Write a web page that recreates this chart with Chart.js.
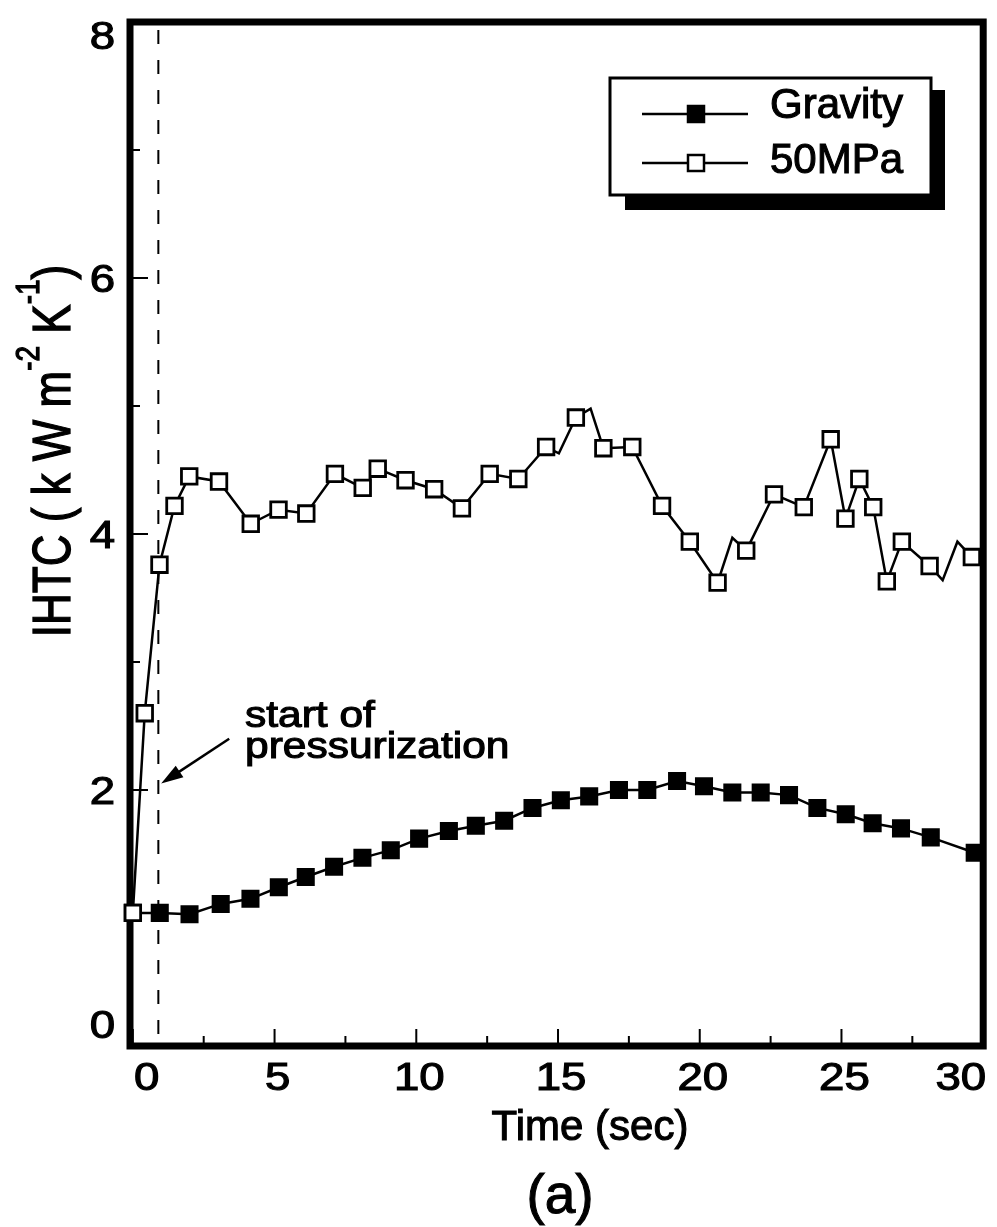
<!DOCTYPE html>
<html>
<head>
<meta charset="utf-8">
<script src="https://cdn.jsdelivr.net/npm/chart.js@4.4.1/dist/chart.umd.min.js"></script>
<style>
  body { margin: 0; background: #fff; }
  canvas { display: block; }
</style>
</head>
<body>
<canvas id="graph1" width="997" height="1227"></canvas>
<script>
// gravity casting, IHTC vs time
var gravityTime = [0, 0.95, 2.0, 3.1, 4.15, 5.15, 6.1, 7.1, 8.1, 9.1, 10.1, 11.15, 12.1, 13.1, 14.1,
  15.1, 16.1, 17.15, 18.15, 19.2, 20.15, 21.15, 22.15, 23.15, 24.15, 25.15, 26.1, 27.1, 28.15, 29.7];
var gravityIHTC = [1.04, 1.04, 1.03, 1.11, 1.15, 1.24, 1.32, 1.40, 1.47, 1.53, 1.62, 1.68, 1.72, 1.76, 1.86,
  1.92, 1.95, 2.0, 2.0, 2.07, 2.03, 1.98, 1.98, 1.96, 1.86, 1.81, 1.74, 1.70, 1.63, 1.51];

// squeeze casting at 50 MPa
var pressTime = [0, 0.42, 0.94, 1.47, 1.99, 3.04, 4.16, 5.14, 6.12, 7.13, 8.11, 8.64, 9.62, 10.63, 11.61,
  12.59, 13.6, 14.58, 15.03, 15.63, 16.15, 16.6, 17.62, 18.67, 19.65, 20.63, 21.15, 21.64, 22.62, 23.67,
  24.62, 25.14, 25.63, 26.12, 26.6, 27.13, 28.11, 28.57, 29.09, 29.6];
var pressIHTC = [1.04, 2.60, 3.76, 4.22, 4.45, 4.41, 4.08, 4.19, 4.16, 4.47, 4.36, 4.51, 4.42, 4.35, 4.20,
  4.47, 4.43, 4.68, 4.63, 4.91, 4.98, 4.67, 4.68, 4.22, 3.94, 3.62, 3.97, 3.87, 4.31, 4.21,
  4.74, 4.12, 4.43, 4.21, 3.63, 3.94, 3.75, 3.64, 3.94, 3.82];
// samples of the 50MPa curve drawn without a marker
var pressUnmarked = [15.03, 16.15, 21.15, 28.57, 29.09];

var xTicks = [0, 5, 10, 15, 20, 25, 30];
var yTicks = [0, 2, 4, 6, 8];
var pressStart = 0.9;

var FONT = '"Liberation Sans", Arial, sans-serif';

function pts(xs, ys) {
  return xs.map(function (x, i) { return { x: x, y: ys[i] }; });
}

// scanned print looks heavier, so fill + thin stroke
function txt(ctx, s, x, y, size, align, sx) {
  ctx.save();
  ctx.translate(x, y);
  ctx.scale(sx || 1, 1);
  ctx.font = size + 'px ' + FONT;
  ctx.textAlign = align || 'left';
  ctx.textBaseline = 'alphabetic';
  ctx.fillStyle = '#000';
  ctx.strokeStyle = '#000';
  ctx.lineWidth = 1.1;
  ctx.fillText(s, 0, 0);
  ctx.strokeText(s, 0, 0);
  ctx.restore();
}

function textWidth(ctx, s, size, sx) {
  ctx.save();
  ctx.font = size + 'px ' + FONT;
  var w = ctx.measureText(s).width * (sx || 1);
  ctx.restore();
  return w;
}

var frame = {
  id: 'frame',
  beforeDatasetsDraw: function (chart) {
    var ctx = chart.ctx, a = chart.chartArea, xs = chart.scales.x, ys = chart.scales.y;
    ctx.save();
    ctx.strokeStyle = '#000';
    ctx.fillStyle = '#000';

    // start of pressurization marker line
    var dx = xs.getPixelForValue(pressStart);
    ctx.lineWidth = 2;
    ctx.setLineDash([14, 16]);
    ctx.beginPath();
    ctx.moveTo(dx, a.top + 8);
    ctx.lineTo(dx, a.bottom - 6);
    ctx.stroke();
    ctx.setLineDash([]);

    // inward ticks
    ctx.lineWidth = 2;
    ctx.beginPath();
    for (var v = 0; v <= 8; v++) {
      var py = ys.getPixelForValue(v);
      ctx.moveTo(a.left, py);
      ctx.lineTo(a.left + (v % 2 === 0 ? 18 : 10), py);
    }
    for (var t = 0; t <= 30; t += 2.5) {
      var px = xs.getPixelForValue(t);
      ctx.moveTo(px, a.bottom);
      ctx.lineTo(px, a.bottom - (t % 5 === 0 ? 17 : 10));
    }
    ctx.stroke();

    // box
    ctx.lineWidth = 7;
    ctx.lineJoin = 'miter';
    ctx.strokeRect(a.left, a.top, a.right - a.left, a.bottom - a.top);

    // tick labels
    yTicks.forEach(function (v) {
      var base = ys.getPixelForValue(v) + 13.6;
      base = Math.max(a.top + 27, Math.min(base, a.bottom - 8));
      txt(ctx, String(v), 115, base, 38, 'right', 1.2);
    });
    xTicks.forEach(function (v) {
      var s = String(v);
      var w = textWidth(ctx, s, 38, 1.2);
      var cx = xs.getPixelForValue(v) + 3;
      cx = Math.max(a.left + w / 2 + 4, Math.min(cx, a.right + 3 - w / 2));
      txt(ctx, s, cx, 1090, 38, 'center', 1.2);
    });

    // axis titles
    txt(ctx, 'Time (sec)', 590, 1140, 42, 'center', 1);
    txt(ctx, '(a)', 560, 1213, 55, 'center', 1);

    // y title with superscripts, rotated
    var runs = [
      ['IHTC ( k W m', 44, 0],
      ['-2', 28, -26],
      [' K', 44, 0],
      ['-1', 28, -26],
      [')', 44, 0]
    ];
    var total = 0;
    runs.forEach(function (r) { total += textWidth(ctx, r[0], r[1], 1); });
    ctx.save();
    ctx.translate(70, 451);
    ctx.rotate(-Math.PI / 2);
    ctx.scale(1, 1.2);
    ctx.lineWidth = 1.1;
    var cur = -total / 2;
    runs.forEach(function (r) {
      ctx.font = r[1] + 'px ' + FONT;
      ctx.textAlign = 'left';
      ctx.textBaseline = 'alphabetic';
      ctx.fillText(r[0], cur, r[2]);
      ctx.strokeText(r[0], cur, r[2]);
      cur += ctx.measureText(r[0]).width;
    });
    ctx.restore();

    // annotation
    txt(ctx, 'start of', 245, 727, 36, 'left', 1.18);
    txt(ctx, 'pressurization', 245, 758, 36, 'left', 1.18);
    var tx = xs.getPixelForValue(1.0), ty = ys.getPixelForValue(2.05);
    var fx = xs.getPixelForValue(3.4), fy = ys.getPixelForValue(2.4);
    var ang = Math.atan2(ty - fy, tx - fx);
    ctx.lineWidth = 2.5;
    ctx.beginPath();
    ctx.moveTo(fx, fy);
    ctx.lineTo(tx - 14 * Math.cos(ang), ty - 14 * Math.sin(ang));
    ctx.stroke();
    ctx.beginPath();
    ctx.moveTo(tx, ty);
    ctx.lineTo(tx - 22 * Math.cos(ang) + 7 * Math.sin(ang), ty - 22 * Math.sin(ang) - 7 * Math.cos(ang));
    ctx.lineTo(tx - 22 * Math.cos(ang) - 7 * Math.sin(ang), ty - 22 * Math.sin(ang) + 7 * Math.cos(ang));
    ctx.closePath();
    ctx.fill();
    ctx.restore();
  },
  afterDatasetsDraw: function (chart) {
    var ctx = chart.ctx;
    ctx.save();
    // legend with drop shadow
    ctx.fillStyle = '#000';
    ctx.fillRect(625, 90, 320, 120);
    ctx.fillStyle = '#fff';
    ctx.fillRect(610, 78, 321, 117);
    ctx.strokeStyle = '#000';
    ctx.lineWidth = 3;
    ctx.strokeRect(610, 78, 321, 117);

    var rows = [
      { ds: chart.data.datasets[0], y: 114 },
      { ds: chart.data.datasets[1], y: 163 }
    ];
    rows.forEach(function (r) {
      ctx.lineWidth = 2.5;
      ctx.strokeStyle = '#000';
      ctx.beginPath();
      ctx.moveTo(642, r.y);
      ctx.lineTo(748, r.y);
      ctx.stroke();
      ctx.fillStyle = r.ds.pointBackgroundColor;
      ctx.fillRect(688, r.y - 8, 16, 16);
      ctx.lineWidth = 2.5;
      ctx.strokeRect(688, r.y - 8, 16, 16);
      txt(ctx, r.ds.label, 770, r.y + 4 + (r.y > 130 ? 6 : 0), 42, 'left', 1);
    });
    ctx.restore();
  }
};

var context = document.getElementById('graph1').getContext('2d');
var chart = new Chart(context, {
  type: 'scatter',
  data: {
    datasets: [{
      label: 'Gravity',
      data: pts(gravityTime, gravityIHTC),
      showLine: true,
      borderColor: '#000',
      borderWidth: 2.5,
      pointStyle: 'rect',
      pointRadius: 11,
      pointBackgroundColor: '#000',
      pointBorderColor: '#000',
      pointBorderWidth: 2.5,
      clip: false,
      order: 1
    }, {
      label: '50MPa',
      data: pts(pressTime, pressIHTC),
      showLine: true,
      borderColor: '#000',
      borderWidth: 2.5,
      pointStyle: 'rect',
      pointRadius: pressTime.map(function (t) { return pressUnmarked.indexOf(t) >= 0 ? 0 : 11; }),
      pointBackgroundColor: '#fff',
      pointBorderColor: '#000',
      pointBorderWidth: 2.8,
      clip: false,
      order: 0
    }]
  },
  options: {
    responsive: false,
    animation: false,
    events: [],
    layout: { padding: { left: 130, right: 7, top: 22, bottom: 181 } },
    elements: { line: { tension: 0 } },
    scales: {
      x: { type: 'linear', min: -0.1, max: 30, display: false },
      y: { type: 'linear', min: 0, max: 8, display: false }
    },
    plugins: {
      legend: { display: false },
      tooltip: { enabled: false }
    }
  },
  plugins: [frame]
});
</script>
</body>
</html>
